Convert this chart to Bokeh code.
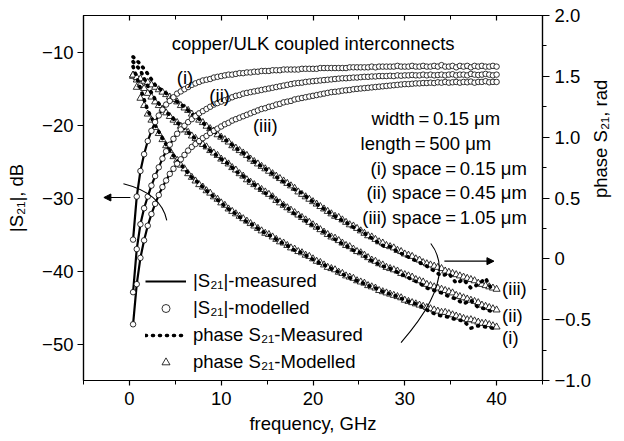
import math
from bokeh.plotting import figure
from bokeh.models import (Range1d, LinearAxis, FixedTicker, CustomJSTickFormatter, Label,
                          Arrow, NormalHead, Legend, LegendItem, ColumnDataSource)
from bokeh.embed import file_html
from bokeh.resources import INLINE

FONT = "Liberation Sans"
FS = "18.5px"

# ---------------- data ----------------
freq = [0.4, 0.8, 1.2, 1.6, 2.0, 2.4, 2.8, 3.2, 3.6, 4.0,
        4.4, 4.8, 5.2, 5.6, 6.0, 6.4, 6.8, 7.2, 7.6, 8.0,
        8.4, 8.8, 9.2, 9.6, 10.0, 10.4, 10.8, 11.2, 11.6, 12.0,
        12.4, 12.8, 13.2, 13.6, 14.0, 14.4, 14.8, 15.2, 15.6, 16.0,
        16.4, 16.8, 17.2, 17.6, 18.0, 18.4, 18.8, 19.2, 19.6, 20.0,
        20.4, 20.8, 21.2, 21.6, 22.0, 22.4, 22.8, 23.2, 23.6, 24.0,
        24.4, 24.8, 25.2, 25.6, 26.0, 26.4, 26.8, 27.2, 27.6, 28.0,
        28.4, 28.8, 29.2, 29.6, 30.0, 30.4, 30.8, 31.2, 31.6, 32.0,
        32.4, 32.8, 33.2, 33.6, 34.0, 34.4, 34.8, 35.2, 35.6, 36.0,
        36.4, 36.8, 37.2, 37.6, 38.0, 38.4, 38.8, 39.2, 39.6, 40.0]

# |S21| in dB, curves (i), (ii), (iii)
s21_i = [-35.7, -29.8, -26.3, -24.0, -22.2, -20.8, -19.6, -18.7, -17.9, -17.2,
         -16.7, -16.2, -15.7, -15.4, -15.1, -14.8, -14.5, -14.3, -14.1, -13.9,
         -13.8, -13.7, -13.5, -13.4, -13.3, -13.2, -13.1, -13.1, -13.0, -12.9,
         -12.9, -12.8, -12.8, -12.7, -12.7, -12.6, -12.6, -12.6, -12.5, -12.5,
         -12.5, -12.4, -12.4, -12.4, -12.4, -12.4, -12.3, -12.3, -12.3, -12.3,
         -12.3, -12.2, -12.2, -12.2, -12.2, -12.2, -12.2, -12.2, -12.2, -12.1,
         -12.1, -12.1, -12.1, -12.1, -12.1, -12.0, -12.1, -12.0, -12.0, -12.0,
         -12.0, -12.0, -11.9, -12.0, -12.0, -12.0, -11.9, -12.0, -12.0, -11.9,
         -12.0, -12.0, -11.9, -12.0, -11.8, -12.0, -12.0, -11.9, -12.1, -11.9,
         -12.0, -11.9, -12.1, -11.9, -12.0, -11.9, -12.0, -12.0, -11.9, -12.0]
s21_ii = [-42.9, -37.0, -33.6, -31.4, -29.8, -28.3, -27.0, -25.8, -24.6, -23.6,
          -22.7, -21.9, -21.2, -20.6, -20.1, -19.6, -19.2, -18.8, -18.4, -18.1,
          -17.8, -17.5, -17.2, -17.0, -16.8, -16.6, -16.4, -16.2, -16.0, -15.9,
          -15.7, -15.6, -15.5, -15.4, -15.3, -15.2, -15.1, -15.0, -14.9, -14.8,
          -14.7, -14.6, -14.5, -14.4, -14.3, -14.25, -14.2, -14.1, -14.05, -14.0,
          -13.95, -13.9, -13.85, -13.8, -13.75, -13.7, -13.65, -13.6, -13.6, -13.55,
          -13.5, -13.5, -13.45, -13.4, -13.4, -13.35, -13.35, -13.3, -13.3, -13.3,
          -13.25, -13.3, -13.2, -13.25, -13.2, -13.2, -13.15, -13.2, -13.2, -13.1,
          -13.2, -13.1, -13.2, -13.15, -13.1, -13.2, -13.1, -13.05, -13.2, -13.1,
          -13.1, -13.2, -13.0, -13.1, -13.15, -13.1, -13.0, -13.1, -13.2, -13.1]
s21_iii = [-47.3, -41.8, -38.2, -35.8, -33.8, -32.2, -30.8, -29.6, -28.5, -27.6,
           -26.7, -26.0, -25.3, -24.7, -24.1, -23.5, -23.0, -22.6, -22.2, -21.8,
           -21.5, -21.1, -20.8, -20.5, -20.2, -19.9, -19.7, -19.4, -19.2, -19.0,
           -18.8, -18.6, -18.4, -18.2, -18.0, -17.8, -17.7, -17.5, -17.4, -17.2,
           -17.1, -16.9, -16.8, -16.7, -16.5, -16.4, -16.3, -16.2, -16.1, -16.0,
           -15.9, -15.8, -15.7, -15.6, -15.5, -15.45, -15.4, -15.3, -15.25, -15.2,
           -15.1, -15.05, -15.0, -14.95, -14.9, -14.85, -14.8, -14.75, -14.7, -14.65,
           -14.6, -14.55, -14.5, -14.45, -14.4, -14.4, -14.35, -14.3, -14.3, -14.25,
           -14.25, -14.2, -14.25, -14.15, -14.2, -14.1, -14.2, -14.15, -14.1, -14.2,
           -14.1, -14.15, -14.05, -14.2, -14.1, -14.1, -14.0, -14.15, -14.1, -14.1]

# modelled phase of S21 (rad)
ph_i = [1.50, 1.41, 1.32, 1.26, 1.19, 1.14, 1.08, 1.03, 0.98, 0.93,
        0.89, 0.84, 0.81, 0.77, 0.74, 0.70, 0.67, 0.64, 0.61, 0.59,
        0.56, 0.54, 0.51, 0.49, 0.46, 0.44, 0.41, 0.39, 0.37, 0.35,
        0.33, 0.31, 0.29, 0.27, 0.25, 0.23, 0.21, 0.20, 0.18, 0.16,
        0.14, 0.13, 0.11, 0.09, 0.08, 0.06, 0.05, 0.03, 0.02, 0.00,
        -0.02, -0.03, -0.05, -0.07, -0.08, -0.09, -0.11, -0.12, -0.14, -0.15,
        -0.16, -0.18, -0.19, -0.20, -0.22, -0.23, -0.24, -0.26, -0.27, -0.28,
        -0.29, -0.30, -0.31, -0.32, -0.34, -0.35, -0.36, -0.37, -0.38, -0.39,
        -0.40, -0.41, -0.42, -0.43, -0.44, -0.44, -0.45, -0.46, -0.47, -0.48,
        -0.49, -0.50, -0.50, -0.51, -0.52, -0.53, -0.53, -0.54, -0.55, -0.56]
ph_ii = [1.51, 1.47, 1.43, 1.40, 1.36, 1.33, 1.29, 1.26, 1.23, 1.20,
         1.17, 1.14, 1.12, 1.09, 1.06, 1.04, 1.01, 0.99, 0.96, 0.94,
         0.92, 0.89, 0.87, 0.85, 0.82, 0.80, 0.78, 0.75, 0.73, 0.70,
         0.68, 0.65, 0.63, 0.61, 0.59, 0.57, 0.55, 0.53, 0.51, 0.48,
         0.46, 0.44, 0.42, 0.40, 0.38, 0.36, 0.34, 0.32, 0.30, 0.28,
         0.26, 0.24, 0.22, 0.20, 0.18, 0.17, 0.15, 0.13, 0.11, 0.10,
         0.08, 0.06, 0.05, 0.03, 0.01, -0.01, -0.02, -0.04, -0.05, -0.07,
         -0.08, -0.09, -0.10, -0.12, -0.13, -0.14, -0.15, -0.17, -0.18, -0.19,
         -0.21, -0.22, -0.23, -0.24, -0.25, -0.26, -0.27, -0.28, -0.30, -0.31,
         -0.32, -0.33, -0.34, -0.35, -0.36, -0.38, -0.39, -0.40, -0.41, -0.42]
ph_iii = [1.51, 1.49, 1.48, 1.46, 1.45, 1.43, 1.41, 1.39, 1.37, 1.35,
          1.33, 1.31, 1.29, 1.26, 1.24, 1.22, 1.19, 1.17, 1.14, 1.12,
          1.09, 1.07, 1.05, 1.02, 1.00, 0.98, 0.96, 0.93, 0.91, 0.89,
          0.87, 0.85, 0.82, 0.80, 0.78, 0.76, 0.74, 0.72, 0.70, 0.68,
          0.66, 0.64, 0.62, 0.60, 0.58, 0.55, 0.53, 0.51, 0.49, 0.47,
          0.45, 0.43, 0.41, 0.39, 0.37, 0.35, 0.34, 0.32, 0.30, 0.28,
          0.27, 0.25, 0.23, 0.21, 0.19, 0.18, 0.16, 0.14, 0.13, 0.11,
          0.10, 0.09, 0.07, 0.06, 0.04, 0.03, 0.02, 0.00, -0.01, -0.03,
          -0.04, -0.05, -0.06, -0.07, -0.08, -0.10, -0.11, -0.12, -0.13, -0.14,
          -0.15, -0.16, -0.17, -0.18, -0.20, -0.21, -0.22, -0.23, -0.24, -0.25]

# measured phase of S21 (rad)
freq_meas = [0.4, 1.2, 2.0, 2.8, 3.6, 4.4, 5.2, 6.0, 6.8, 7.6,
             8.4, 9.2, 10.0, 10.8, 11.6, 12.4, 13.2, 14.0, 14.8, 15.6,
             16.4, 17.2, 18.0, 18.8, 19.6, 20.4, 21.2, 22.0, 22.8, 23.6,
             24.4, 25.2, 26.0, 26.8, 27.6, 28.4, 29.2, 30.0, 30.8, 31.6,
             32.4, 33.2, 34.0, 34.8, 35.6, 36.4, 37.2, 38.0, 38.8, 39.6]
phm_i = [1.58, 1.40, 1.22, 1.10, 0.99, 0.89, 0.81, 0.74, 0.67, 0.62,
         0.56, 0.51, 0.46, 0.41, 0.37, 0.32, 0.29, 0.25, 0.21, 0.18,
         0.14, 0.11, 0.07, 0.05, 0.01, -0.02, -0.05, -0.08, -0.11, -0.14,
         -0.17, -0.19, -0.22, -0.24, -0.27, -0.29, -0.31, -0.34, -0.36, -0.38,
         -0.42, -0.45, -0.47, -0.48, -0.50, -0.51, -0.57, -0.55, -0.56, -0.57]
phm_ii = [1.62, 1.55, 1.42, 1.31, 1.24, 1.18, 1.12, 1.07, 1.01, 0.97,
          0.91, 0.87, 0.82, 0.78, 0.72, 0.68, 0.63, 0.59, 0.54, 0.51,
          0.46, 0.42, 0.37, 0.34, 0.29, 0.26, 0.22, 0.18, 0.14, 0.11,
          0.07, 0.05, 0.00, -0.03, -0.06, -0.08, -0.11, -0.14, -0.17, -0.20,
          -0.24, -0.26, -0.28, -0.31, -0.33, -0.37, -0.34, -0.40, -0.41, -0.44]
phm_iii = [1.66, 1.60, 1.52, 1.43, 1.38, 1.34, 1.29, 1.25, 1.19, 1.15,
           1.09, 1.05, 1.00, 0.96, 0.91, 0.87, 0.82, 0.78, 0.74, 0.70,
           0.65, 0.62, 0.57, 0.54, 0.49, 0.45, 0.41, 0.37, 0.33, 0.30,
           0.26, 0.23, 0.19, 0.15, 0.11, 0.10, 0.06, 0.03, 0.00, -0.03,
           -0.06, -0.10, -0.14, -0.12, -0.20, -0.17, -0.24, -0.21, -0.16, -0.27]

x_ticks = [0, 10, 20, 30, 40]
x_minor = [-5, 5, 15, 25, 35, 45]
left_ticks = [-50, -40, -30, -20, -10]
right_ticks = [-1.0, -0.5, 0.0, 0.5, 1.0, 1.5, 2.0]
right_minor = [-0.75, -0.25, 0.25, 0.75, 1.25, 1.75]

# ---------------- figure ----------------
p = figure(width=624, height=441, x_range=Range1d(-5, 45), y_range=Range1d(-55, -5),
           output_backend="svg", toolbar_location=None,
           min_border_left=83, min_border_right=78, min_border_top=15, min_border_bottom=61)
p.extra_y_ranges = {"phase": Range1d(-1, 2)}
p.xgrid.visible = False
p.ygrid.visible = False
p.outline_line_color = "black"
p.outline_line_width = 1.2
p.background_fill_color = "white"
p.border_fill_color = "white"


def style_axis(ax):
    ax.axis_line_color = "black"
    ax.axis_line_width = 1.2
    ax.major_tick_line_color = "black"
    ax.minor_tick_line_color = "black"
    ax.major_tick_line_width = 1.2
    ax.minor_tick_line_width = 1.0
    ax.major_label_text_font = FONT
    ax.major_label_text_font_size = FS
    ax.major_label_text_color = "black"
    ax.axis_label_text_font = FONT
    ax.axis_label_text_font_size = FS
    ax.axis_label_text_font_style = "normal"
    ax.axis_label_text_color = "black"


xa = p.xaxis[0]
style_axis(xa)
xa.ticker = FixedTicker(ticks=x_ticks, minor_ticks=x_minor)
xa.formatter = CustomJSTickFormatter(code="return (tick < 0 ? '\u2212' : '') + Math.abs(tick).toFixed(0);")
xa.major_tick_out = 5
xa.major_tick_in = 0
xa.minor_tick_out = 4
xa.minor_tick_in = 0
xa.major_label_standoff = 6
xa.axis_label = "frequency, GHz"
xa.axis_label_standoff = 5

ya = p.yaxis[0]
style_axis(ya)
ya.ticker = FixedTicker(ticks=left_ticks, minor_ticks=[])
ya.formatter = CustomJSTickFormatter(code="return (tick < 0 ? '\u2212' : '') + Math.abs(tick).toFixed(0);")
ya.major_tick_out = 6
ya.major_tick_in = 0
ya.minor_tick_out = 0
ya.minor_tick_in = 0
ya.major_label_standoff = 4
ya.axis_label = "|S\u2082\u2081|, dB"
ya.axis_label_standoff = 12

ra = LinearAxis(y_range_name="phase")
style_axis(ra)
ra.ticker = FixedTicker(ticks=right_ticks, minor_ticks=right_minor)
ra.formatter = CustomJSTickFormatter(
    code="if (Math.abs(tick) < 1e-9) { return '0'; } return (tick < 0 ? '\u2212' : '') + Math.abs(tick).toFixed(1);")
ra.major_tick_out = 7
ra.major_tick_in = 0
ra.minor_tick_out = 4
ra.minor_tick_in = 0
ra.major_label_standoff = 5
ra.axis_label = "phase S\u2082\u2081, rad"
ra.axis_label_standoff = 6
try:
    ra.axis_label_orientation = math.pi / 2
except Exception:
    pass
p.add_layout(ra, "right")

ta = LinearAxis()
style_axis(ta)
ta.ticker = FixedTicker(ticks=x_ticks, minor_ticks=x_minor)
ta.formatter = CustomJSTickFormatter(code="return '';")
ta.major_tick_in = 5
ta.major_tick_out = 0
ta.minor_tick_in = 4
ta.minor_tick_out = 0
ta.major_label_standoff = 0
ta.major_label_text_font_size = "0px"
p.add_layout(ta, "above")

# ---------------- data glyphs ----------------
src = ColumnDataSource(dict(f=freq, a=s21_i, b=s21_ii, c=s21_iii,
                            pa=ph_i, pb=ph_ii, pc=ph_iii))
msrc = ColumnDataSource(dict(f=freq_meas, a=phm_i, b=phm_ii, c=phm_iii))

tri_r = None
for col in ["a", "b", "c"]:
    r = p.scatter("f", "p" + col, source=src, y_range_name="phase", marker="triangle",
                  size=7, fill_color="white", line_color="black", line_width=0.8)
    if tri_r is None:
        tri_r = r

dot_r = None
for col in ["a", "b", "c"]:
    r = p.line("f", col, source=msrc, y_range_name="phase", line_color="black",
               line_width=3.6, line_dash="1 6", line_cap="round")
    if dot_r is None:
        dot_r = r

line_r = None
circ_r = None
for col in ["a", "b", "c"]:
    lr = p.line("f", col, source=src, line_color="black", line_width=2.2)
    if line_r is None:
        line_r = lr
for col in ["a", "b", "c"]:
    cr = p.scatter("f", col, source=src, marker="circle", size=5.5,
                   fill_color="white", line_color="black", line_width=0.8)
    if circ_r is None:
        circ_r = cr

legend = Legend(items=[
    LegendItem(label="|S\u2082\u2081|-measured", renderers=[line_r]),
    LegendItem(label="|S\u2082\u2081|-modelled", renderers=[circ_r]),
    LegendItem(label="phase S\u2082\u2081-Measured", renderers=[dot_r]),
    LegendItem(label="phase S\u2082\u2081-Modelled", renderers=[tri_r]),
], location=(62, 7), border_line_color=None, background_fill_alpha=0,
    label_text_font=FONT, label_text_font_size=FS, label_text_color="black",
    glyph_width=41, glyph_height=20, label_height=20, spacing=5, padding=0, margin=0,
    label_standoff=7)
p.add_layout(legend)

# ---------------- annotations ----------------
def lab(x, y, t, align="left", yr="default"):
    p.add_layout(Label(x=x, y=y, text=t, text_align=align, text_baseline="middle",
                       text_font=FONT, text_font_size=FS, text_color="black",
                       y_range_name=yr))

TS = "\u2009=\u2009"
lab(4.61, -8.8, "copper/ULK coupled interconnects")
lab(40.39, -19.11, "width" + TS + "0.15 \u03bcm", "right")
lab(39.42, -22.55, "length" + TS + "500 \u03bcm", "right")
lab(43.3, -25.99, "(i) space" + TS + "0.15 \u03bcm", "right")
lab(43.3, -29.29, "(ii) space" + TS + "0.45 \u03bcm", "right")
lab(43.3, -32.72, "(iii) space" + TS + "1.05 \u03bcm", "right")
lab(6.05, -13.44, "(i)", "center")
lab(9.83, -15.95, "(ii)", "center")
lab(14.8, -20.08, "(iii)", "center")
lab(40.6, -0.244, "(iii)", "left", "phase")
lab(40.6, -0.466, "(ii)", "left", "phase")
lab(40.6, -0.647, "(i)", "left", "phase")

p.quadratic(x0=[-0.65], y0=[-28.05], x1=[4.07], y1=[-33.07], cx=[3.47], cy=[-29.35],
            line_color="black", line_width=1.1)
p.quadratic(x0=[32.83], y0=[0.126], x1=[29.59], y1=[-0.688], cx=[35.75], cy=[-0.158],
            line_color="black", line_width=1.1, y_range_name="phase")

p.add_layout(Arrow(end=NormalHead(size=7, fill_color="black", line_color="black"),
                   x_start=0.11, y_start=-29.93, x_end=-2.78, y_end=-29.93,
                   line_color="black", line_width=1.1))
p.add_layout(Arrow(end=NormalHead(size=7, fill_color="black", line_color="black"),
                   x_start=34.31, y_start=-0.019, x_end=39.71, y_end=-0.019,
                   line_color="black", line_width=1.1, y_range_name="phase"))

open("out.html", "w").write(file_html(p, INLINE))
